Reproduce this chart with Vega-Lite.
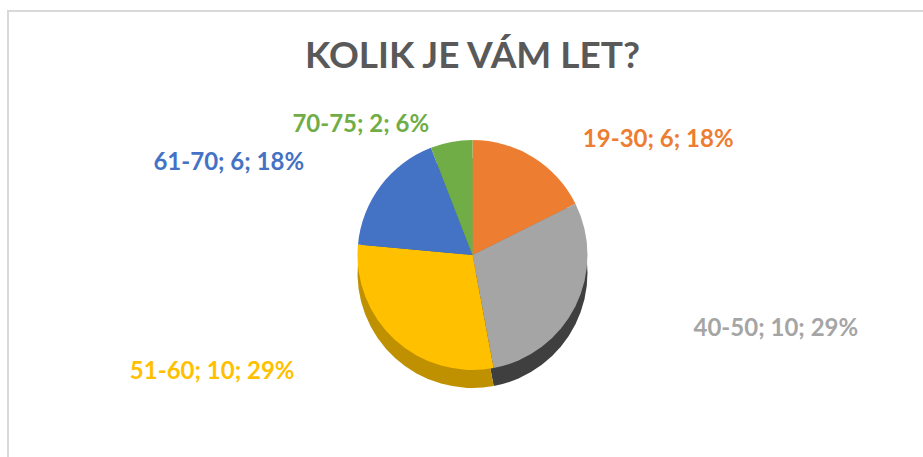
{
  "$schema": "https://vega.github.io/schema/vega-lite/v6.json",
  "autosize": "none",
  "width": 925,
  "height": 450,
  "padding": {"left": 8, "top": 11, "right": 0, "bottom": 0},
  "background": "white",
  "config": {"view": {"stroke": null}},
  "title": {
    "text": "KOLIK JE VÁM LET?",
    "font": "Lato",
    "fontSize": 37,
    "fontWeight": "bold",
    "color": "#595959",
    "anchor": "middle",
    "frame": "group",
    "baseline": "alphabetic",
    "offset": -62,
    "dx": 2,
    "dy": 33
  },
  "data": {
    "values": [
      {"group": "19-30", "count": 6, "label": "19-30; 6; 18%"},
      {"group": "40-50", "count": 10, "label": "40-50; 10; 29%"},
      {"group": "51-60", "count": 10, "label": "51-60; 10; 29%"},
      {"group": "61-70", "count": 6, "label": "61-70; 6; 18%"},
      {"group": "70-75", "count": 2, "label": "70-75; 2; 6%"}
    ]
  },
  "layer": [
    {
      "data": {"values": [{"frame": 1}]},
      "mark": {"type": "rect", "fill": "white", "stroke": "#D9D9D9", "strokeWidth": 2},
      "encoding": {}
    },
    {
      "mark": {"type": "arc", "outerRadius": 115, "xOffset": 2, "yOffset": 37},
      "encoding": {
        "theta": {"field": "count", "type": "quantitative", "stack": true},
        "fill": {
          "field": "group", "type": "nominal", "legend": null,
          "scale": {"domain": ["19-30", "40-50", "51-60", "61-70", "70-75"],
                    "range": ["#B25E21", "#3F3F3F", "#BF9000", "#2F5597", "#548235"]}
        }
      }
    },
    {
      "mark": {"type": "arc", "outerRadius": 115, "xOffset": 2, "yOffset": 19},
      "encoding": {
        "theta": {"field": "count", "type": "quantitative", "stack": true},
        "color": {
          "field": "group", "type": "nominal", "legend": null,
          "scale": {"domain": ["19-30", "40-50", "51-60", "61-70", "70-75"],
                    "range": ["#ED7D31", "#A5A5A5", "#FFC000", "#4472C4", "#70AD47"]}
        }
      }
    },
    {
      "mark": {"type": "text", "radius": 140, "xOffset": 2, "yOffset": 19, "dx": 112, "dy": 4, "font": "Lato", "fontSize": 24, "fontWeight": "bold", "align": "center", "baseline": "middle"},
      "encoding": {
        "theta": {"field": "count", "type": "quantitative", "stack": true},
        "color": {"field": "group", "type": "nominal", "legend": null},
        "text": {"condition": {"test": "datum.group === '19-30'", "field": "label"}, "value": ""}
      }
    },
    {
      "mark": {"type": "text", "radius": 140, "xOffset": 2, "yOffset": 19, "dx": 178, "dy": 12, "font": "Lato", "fontSize": 24, "fontWeight": "bold", "align": "center", "baseline": "middle"},
      "encoding": {
        "theta": {"field": "count", "type": "quantitative", "stack": true},
        "color": {"field": "group", "type": "nominal", "legend": null},
        "text": {"condition": {"test": "datum.group === '40-50'", "field": "label"}, "value": ""}
      }
    },
    {
      "mark": {"type": "text", "radius": 140, "xOffset": 2, "yOffset": 19, "dx": -166, "dy": 14, "font": "Lato", "fontSize": 24, "fontWeight": "bold", "align": "center", "baseline": "middle"},
      "encoding": {
        "theta": {"field": "count", "type": "quantitative", "stack": true},
        "color": {"field": "group", "type": "nominal", "legend": null},
        "text": {"condition": {"test": "datum.group === '51-60'", "field": "label"}, "value": ""}
      }
    },
    {
      "mark": {"type": "text", "radius": 140, "xOffset": 2, "yOffset": 19, "dx": -132, "dy": -8, "font": "Lato", "fontSize": 24, "fontWeight": "bold", "align": "center", "baseline": "middle"},
      "encoding": {
        "theta": {"field": "count", "type": "quantitative", "stack": true},
        "color": {"field": "group", "type": "nominal", "legend": null},
        "text": {"condition": {"test": "datum.group === '61-70'", "field": "label"}, "value": ""}
      }
    },
    {
      "mark": {"type": "text", "radius": 140, "xOffset": 2, "yOffset": 19, "dx": -86, "dy": 8, "font": "Lato", "fontSize": 24, "fontWeight": "bold", "align": "center", "baseline": "middle"},
      "encoding": {
        "theta": {"field": "count", "type": "quantitative", "stack": true},
        "color": {"field": "group", "type": "nominal", "legend": null},
        "text": {"condition": {"test": "datum.group === '70-75'", "field": "label"}, "value": ""}
      }
    }
  ]
}
